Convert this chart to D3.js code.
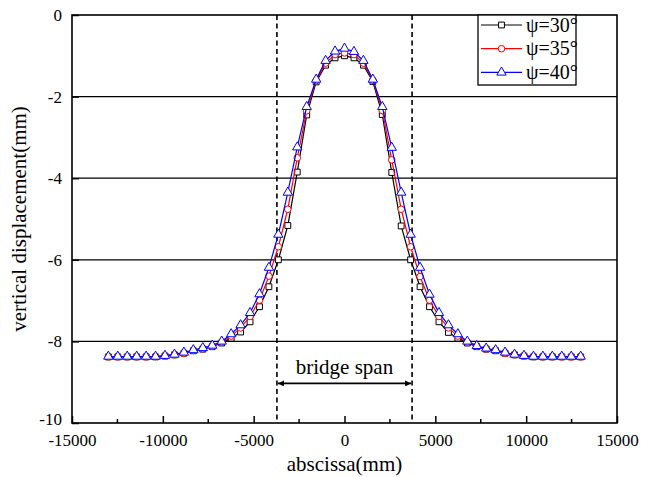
<!DOCTYPE html>
<html>
<head>
<meta charset="utf-8">
<script src="https://cdn.jsdelivr.net/npm/d3@7"></script>
<style>
  body { margin: 0; background: #fff; }
  svg text { font-family: "Liberation Serif", "Times New Roman", serif; fill: #000; }
</style>
</head>
<body>
<div id="chart"></div>
<script>
// abscissa of the measuring points (mm)
const abscissa = [-13000, -12480, -11960, -11440, -10920, -10400, -9880, -9360, -8840, -8320,
  -7800, -7280, -6760, -6240, -5720, -5200, -4680, -4160, -3640, -3120,
  -2600, -2080, -1560, -1040, -520, 0, 520, 1040, 1560, 2080,
  2600, 3120, 3640, 4160, 4680, 5200, 5720, 6240, 6760, 7280,
  7800, 8320, 8840, 9360, 9880, 10400, 10920, 11440, 11960, 12480, 13000];

// vertical displacement (mm)
const psi30 = [-8.38, -8.38, -8.38, -8.38, -8.38, -8.38, -8.36, -8.33, -8.29, -8.23,
  -8.19, -8.13, -8.04, -7.92, -7.77, -7.52, -7.15, -6.66, -6.00, -5.16,
  -3.85, -2.45, -1.64, -1.23, -1.05, -1.00, -1.05, -1.23, -1.63, -2.44,
  -3.86, -5.17, -6.00, -6.66, -7.15, -7.52, -7.78, -7.92, -8.04, -8.13,
  -8.19, -8.23, -8.29, -8.33, -8.36, -8.38, -8.38, -8.38, -8.38, -8.38, -8.38];

const psi35 = [-8.38, -8.38, -8.38, -8.38, -8.38, -8.37, -8.35, -8.33, -8.29, -8.22,
  -8.18, -8.12, -8.02, -7.87, -7.67, -7.39, -6.99, -6.40, -5.68, -4.76,
  -3.50, -2.35, -1.61, -1.18, -0.97, -0.93, -0.97, -1.18, -1.60, -2.34,
  -3.55, -4.76, -5.68, -6.41, -6.99, -7.39, -7.67, -7.87, -8.02, -8.12,
  -8.18, -8.22, -8.29, -8.33, -8.35, -8.37, -8.38, -8.38, -8.38, -8.38, -8.38];

const psi40 = [-8.37, -8.37, -8.37, -8.37, -8.37, -8.37, -8.35, -8.32, -8.27, -8.21,
  -8.16, -8.10, -8.00, -7.82, -7.60, -7.30, -6.84, -6.19, -5.38, -4.35,
  -3.24, -2.25, -1.58, -1.12, -0.89, -0.82, -0.90, -1.12, -1.58, -2.25,
  -3.25, -4.35, -5.38, -6.19, -6.85, -7.30, -7.60, -7.82, -8.00, -8.11,
  -8.17, -8.21, -8.27, -8.32, -8.35, -8.37, -8.37, -8.37, -8.37, -8.37, -8.37];

const seriesNames = ["ψ=30°", "ψ=35°", "ψ=40°"];
const xTicks = [-15000, -10000, -5000, 0, 5000, 10000, 15000];
const xMinorTicks = [-12500, -7500, -2500, 2500, 7500, 12500];
const yTicks = [0, -2, -4, -6, -8, -10];
const gridValues = [-2, -4, -6, -8];
const spanEdges = [-3720, 3720];

const W = 654, H = 477;
const margin = {top: 15, right: 37, bottom: 54, left: 72};

const svg = d3.select("#chart").append("svg")
  .attr("width", W).attr("height", H);

const x = d3.scaleLinear().domain([-15000, 15000]).range([margin.left, W - margin.right]);
const y = d3.scaleLinear().domain([-10, 0]).range([H - margin.bottom, margin.top]);

const plain = d => String(d);

// grid lines
svg.append("g").selectAll("line").data(gridValues).join("line")
  .attr("x1", x(-15000)).attr("x2", x(15000))
  .attr("y1", d => y(d)).attr("y2", d => y(d))
  .attr("stroke", "#000").attr("stroke-width", 1.3);

// bottom axis, ticks inside
const xAxis = svg.append("g")
  .attr("transform", `translate(0,${y(-10)})`)
  .call(d3.axisBottom(x).tickValues(xTicks).tickFormat(plain)
    .tickSizeInner(-7).tickSizeOuter(0).tickPadding(11));
xAxis.select(".domain").remove();
xAxis.selectAll("text").attr("font-size", 17);
xAxis.selectAll("line").attr("stroke-width", 1.5);
svg.append("g").selectAll("line").data(xMinorTicks).join("line")
  .attr("x1", d => x(d)).attr("x2", d => x(d))
  .attr("y1", y(-10)).attr("y2", y(-10) - 4)
  .attr("stroke", "#000").attr("stroke-width", 1.5);

const yAxis = svg.append("g")
  .attr("transform", `translate(${x(-15000)},0)`)
  .call(d3.axisLeft(y).tickValues(yTicks).tickFormat(plain)
    .tickSizeInner(-7).tickSizeOuter(0).tickPadding(10));
yAxis.select(".domain").remove();
yAxis.selectAll("text").attr("font-size", 17);
yAxis.selectAll("line").attr("stroke-width", 1.5);
// the lowest label sits a little higher so it clears the -15000 label
yAxis.selectAll(".tick").filter(d => d === -10).select("text").attr("dy", "0.1em");

// frame
svg.append("rect")
  .attr("x", x(-15000)).attr("y", y(0))
  .attr("width", x(15000) - x(-15000)).attr("height", y(-10) - y(0))
  .attr("fill", "none").attr("stroke", "#000").attr("stroke-width", 1.6);

// bridge span dashed lines
svg.append("g").selectAll("line").data(spanEdges).join("line")
  .attr("x1", d => x(d)).attr("x2", d => x(d))
  .attr("y1", y(0)).attr("y2", y(-10))
  .attr("stroke", "#000").attr("stroke-width", 1.6)
  .attr("stroke-dasharray", "5,3.5");

const defs = svg.append("defs");
["arrowL", "arrowR"].forEach((id, i) => {
  defs.append("marker").attr("id", id)
    .attr("viewBox", "0 0 10 10").attr("refX", i ? 10 : 0).attr("refY", 5)
    .attr("markerWidth", 10).attr("markerHeight", 6)
    .attr("markerUnits", "userSpaceOnUse").attr("orient", "auto")
    .append("path")
    .attr("d", i ? "M0,0 L10,5 L0,10 Z" : "M10,0 L0,5 L10,10 Z")
    .attr("fill", "#000");
});
svg.append("line")
  .attr("x1", x(spanEdges[0]) + 1).attr("x2", x(spanEdges[1]) - 1)
  .attr("y1", y(-9.03)).attr("y2", y(-9.03))
  .attr("stroke", "#000").attr("stroke-width", 1.6)
  .attr("marker-start", "url(#arrowL)").attr("marker-end", "url(#arrowR)");
svg.append("text")
  .attr("x", x(0)).attr("y", y(-8.95) - 6)
  .attr("text-anchor", "middle").attr("font-size", 21)
  .text("bridge span");

// series
const series = [
  {name: seriesNames[0], values: psi30, color: "#000000", sym: d3.symbolSquare, size: 34},
  {name: seriesNames[1], values: psi35, color: "#ff0000", sym: d3.symbolCircle, size: 34},
  {name: seriesNames[2], values: psi40, color: "#0000ff", sym: d3.symbolTriangle, size: 38}
];

const line = d3.line().x((d, i) => x(abscissa[i])).y(d => y(d));

series.forEach(s => {
  const g = svg.append("g");
  g.append("path").datum(s.values)
    .attr("d", line).attr("fill", "none")
    .attr("stroke", s.color).attr("stroke-width", 1.2);
  g.selectAll("path.pt").data(s.values).join("path")
    .attr("class", "pt")
    .attr("transform", (d, i) => `translate(${x(abscissa[i])},${y(d)})`)
    .attr("d", d3.symbol().type(s.sym).size(s.size))
    .attr("fill", "#fff").attr("stroke", s.color).attr("stroke-width", 1);
});

// legend
const lg = svg.append("g");
lg.append("rect")
  .attr("x", 478).attr("y", y(0))
  .attr("width", 98).attr("height", 70)
  .attr("fill", "#fff").attr("stroke", "#000").attr("stroke-width", 1.3);
series.forEach((s, i) => {
  const ly = 25 + i * 23.7;
  lg.append("line").attr("x1", 481).attr("x2", 522).attr("y1", ly).attr("y2", ly)
    .attr("stroke", s.color).attr("stroke-width", 1.2);
  lg.append("path").attr("transform", `translate(501.5,${ly})`)
    .attr("d", d3.symbol().type(s.sym).size(s.size))
    .attr("fill", "#fff").attr("stroke", s.color).attr("stroke-width", 1);
  lg.append("text").attr("x", 526).attr("y", ly + 6.5)
    .attr("font-size", 20).text(s.name);
});

// axis titles
svg.append("text")
  .attr("x", x(0)).attr("y", 471)
  .attr("text-anchor", "middle").attr("font-size", 21)
  .text("abscissa(mm)");
svg.append("text")
  .attr("transform", `translate(26,${y(-5)}) rotate(-90)`)
  .attr("text-anchor", "middle").attr("font-size", 21)
  .text("vertical displacement(mm)");
</script>
</body>
</html>
